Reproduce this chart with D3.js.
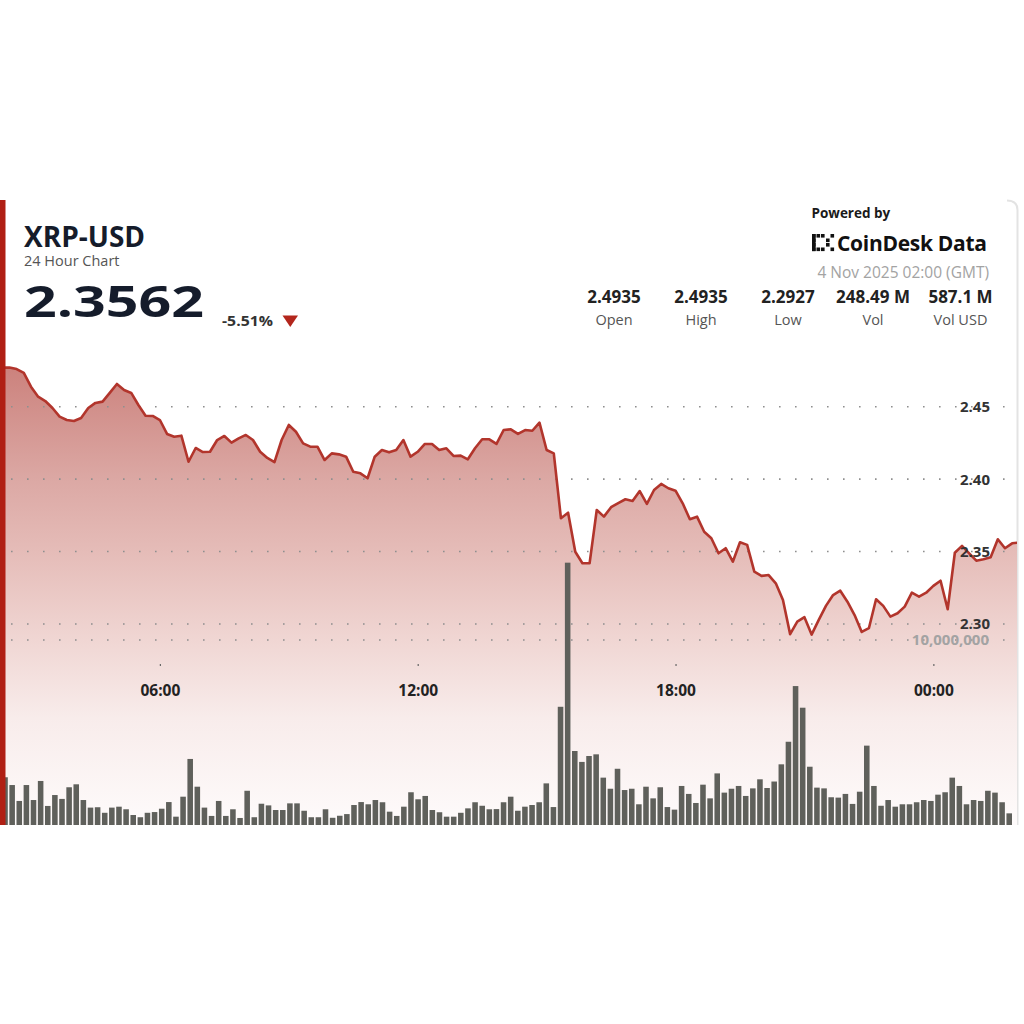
<!DOCTYPE html>
<html><head><meta charset="utf-8">
<script src="https://cdn.jsdelivr.net/npm/d3@7"></script>
<style>html,body{margin:0;padding:0;background:#fff;} svg{display:block;font-family:"Open Sans",sans-serif;}</style>
</head><body><svg id="c" width="1024" height="1024"></svg>
<script>
// ---------- DATA ----------
const startTime = Date.UTC(2025, 10, 3, 2, 0);   // 3 Nov 2025 02:00 GMT
const endTime   = Date.UTC(2025, 10, 4, 2, 0);   // 4 Nov 2025 02:00 GMT
const stepMinutes = 10;

const prices = [
2.4935,2.4860,2.4769,2.4771,2.4760,2.4733,2.4638,2.4569,2.4539,2.4491,
2.4431,2.4408,2.4401,2.4422,2.4491,2.4526,2.4535,2.4595,2.4657,2.4615,
2.4595,2.4512,2.4438,2.4436,2.4408,2.4312,2.4293,2.4300,2.4120,2.4215,
2.4187,2.4189,2.4270,2.4298,2.4252,2.4281,2.4305,2.4270,2.4189,2.4146,
2.4118,2.4270,2.4374,2.4327,2.4247,2.4224,2.4224,2.4132,2.4178,2.4171,
2.4155,2.4051,2.4040,2.4006,2.4155,2.4201,2.4185,2.4201,2.4270,2.4155,
2.4189,2.4243,2.4243,2.4201,2.4213,2.4160,2.4162,2.4137,2.4213,2.4275,
2.4275,2.4243,2.4339,2.4344,2.4312,2.4339,2.4334,2.4390,2.4201,2.4178,
2.3730,2.3768,2.3499,2.3419,2.3419,2.3787,2.3741,2.3806,2.3835,2.3861,
2.3849,2.3918,2.3829,2.3925,2.3967,2.3937,2.3920,2.3833,2.3723,2.3741,
2.3637,2.3592,2.3488,2.3523,2.3430,2.3564,2.3546,2.3361,2.3332,2.3338,
2.3281,2.3166,2.2930,2.3016,2.3047,2.2927,2.3028,2.3125,2.3200,2.3230,
2.3154,2.3062,2.2945,2.2971,2.3171,2.3125,2.3051,2.3074,2.3120,2.3216,
2.3189,2.3216,2.3263,2.3299,2.3102,2.3492,2.3539,2.3488,2.3437,2.3447,
2.3461,2.3585,2.3523,2.3557,2.3562
];

// volume per 10-minute bar, in millions of XRP
const volumesM = [
2.50,2.50,2.58,2.16,1.30,2.16,1.35,2.38,1.03,1.62,
1.41,2.04,2.20,1.35,0.94,0.96,0.66,0.94,0.99,0.85,
0.54,0.42,0.66,0.70,0.88,1.24,0.45,1.53,3.57,2.07,
0.94,0.49,1.30,0.49,0.85,0.38,1.85,0.42,1.15,1.06,
0.81,0.81,1.17,1.17,0.77,0.42,0.42,0.85,0.39,0.50,
0.59,1.08,1.24,1.12,1.35,1.23,0.72,0.49,0.99,1.77,
1.39,1.57,0.81,0.69,0.45,0.45,0.66,0.90,1.23,1.04,
0.85,0.86,1.23,1.53,0.77,0.99,1.08,1.23,2.25,0.97,
6.39,14.18,4.00,3.41,3.73,3.82,2.56,1.96,3.04,1.89,
1.96,1.12,2.07,1.44,2.04,0.97,0.83,2.11,1.68,1.19,
2.18,1.44,2.79,1.75,1.96,2.11,1.57,1.98,2.47,2.00,
2.35,3.28,4.50,7.51,6.34,3.15,2.02,1.98,1.50,1.48,
1.68,1.14,1.80,4.29,2.11,1.04,1.35,0.99,1.12,1.12,
1.23,1.35,1.30,1.64,1.77,2.56,2.11,1.12,1.35,1.30,
1.85,1.75,1.23,0.63
];

const priceTicks = [2.30, 2.35, 2.40, 2.45];
const volumeTicks = [10000000];

const symbol = "XRP-USD";
const subtitle = "24 Hour Chart";
const lastPrice = "2.3562";
const changePct = "-5.51%";
const poweredBy = "Powered by";
const brand = "CoinDesk Data";
const stamp = "4 Nov 2025 02:00 (GMT)";
const statValues = ["2.4935", "2.4935", "2.2927", "248.49 M", "587.1 M"];
const statLabels = ["Open", "High", "Low", "Vol", "Vol USD"];

// ---------- CHART ----------
const svg = d3.select("#c");
const defs = svg.append("defs");

const cardTop = 200, cardBottom = 825, cardLeft = 0, cardRight = 1017;

const priceData = prices.map((p, i) => ({t: new Date(startTime + i * stepMinutes * 60000), p}));
const volData = volumesM.map((v, i) => ({i, v: v * 1e6}));

const x = d3.scaleTime().domain([new Date(startTime), new Date(endTime)]).range([-12, 1019.3]);
const y = d3.scaleLinear().domain([2.30, 2.45]).range([624, 406.7]);
const yv = d3.scaleLinear().domain([0, 10000000]).range([cardBottom, 640]);
const xb = d3.scaleBand().domain(d3.range(volData.length)).range([-12, 1012]).paddingInner(0.22).paddingOuter(0);

// gradient
const grad = defs.append("linearGradient").attr("id", "fillGrad")
  .attr("gradientUnits", "userSpaceOnUse").attr("x1", 0).attr("y1", 362).attr("x2", 0).attr("y2", cardBottom);
[[0, "#cb807b"], [0.26, "#dca9a5"], [0.41, "#e5bcb8"], [0.6, "#f0d6d3"], [0.77, "#f8eceb"], [1, "#fefbfb"]]
  .forEach(([o, c]) => grad.append("stop").attr("offset", o).attr("stop-color", c));

defs.append("clipPath").attr("id", "plotClip").append("rect")
  .attr("x", 5).attr("y", cardTop).attr("width", cardRight - 5).attr("height", cardBottom - cardTop);

// card right border
svg.append("path")
  .attr("d", `M ${cardRight - 10} ${cardTop + 0.5} Q ${cardRight + 0.5} ${cardTop + 0.5} ${cardRight + 0.5} ${cardTop + 10} L ${cardRight + 0.5} ${cardBottom}`)
  .attr("fill", "none").attr("stroke", "#e3e3e3").attr("stroke-width", 2);

const plot = svg.append("g").attr("clip-path", "url(#plotClip)");

// area
plot.append("path").datum(priceData)
  .attr("fill", "url(#fillGrad)")
  .attr("d", d3.area().x(d => x(d.t)).y0(cardBottom).y1(d => y(d.p)));

// gridlines
const gridG = plot.append("g");
priceTicks.forEach(v => {
  gridG.append("line").attr("x1", 11).attr("x2", cardRight).attr("y1", y(v)).attr("y2", y(v))
    .attr("stroke", "#8f8f8f").attr("stroke-width", 1.6).attr("stroke-dasharray", "1.6,14.4");
});
volumeTicks.forEach(v => {
  gridG.append("line").attr("x1", 11).attr("x2", cardRight).attr("y1", yv(v)).attr("y2", yv(v))
    .attr("stroke", "#8f8f8f").attr("stroke-width", 1.6).attr("stroke-dasharray", "1.6,14.4");
});

// volume bars
plot.append("g").selectAll("rect").data(volData).join("rect")
  .attr("x", d => xb(d.i)).attr("width", xb.bandwidth())
  .attr("y", d => yv(d.v)).attr("height", d => cardBottom - yv(d.v))
  .attr("fill", "#5f605b");

// price line
plot.append("path").datum(priceData)
  .attr("fill", "none").attr("stroke", "#b2352c").attr("stroke-width", 2.6)
  .attr("stroke-linejoin", "round")
  .attr("d", d3.line().x(d => x(d.t)).y(d => y(d.p)));

// left accent bar
svg.append("rect").attr("x", 0).attr("y", cardTop).attr("width", 5.5).attr("height", cardBottom - cardTop).attr("fill", "#b01f14");

// price axis labels
const fmtP = d3.format(".2f");
svg.append("g").selectAll("text").data(priceTicks).join("text")
  .attr("x", 990).attr("y", d => y(d)).attr("dy", "0.36em").attr("text-anchor", "end")
  .attr("font-size", 15).attr("font-weight", 700).attr("fill", "#333")
  .text(d => fmtP(d));
svg.append("g").selectAll("text").data(volumeTicks).join("text")
  .attr("x", 989).attr("y", d => yv(d)).attr("dy", "0.36em").attr("text-anchor", "end")
  .attr("font-size", 15).attr("font-weight", 700).attr("fill", "#a3a3a3")
  .text(d => d3.format(",")(d));

// time axis
const ax = svg.append("g").attr("transform", "translate(0,664)")
  .call(d3.axisBottom(x).ticks(d3.utcHour.every(6)).tickFormat(d3.utcFormat("%H:%M")).tickSize(2).tickSizeOuter(0));
ax.select(".domain").remove();
ax.selectAll(".tick line").attr("stroke", "#666").attr("stroke-width", 1.2);
ax.selectAll(".tick text").attr("y", 26).attr("dy", "0.36em")
  .attr("font-size", 15.5).attr("font-weight", 700).attr("fill", "#222").attr("font-family", "Open Sans, sans-serif");

// ---------- HEADER ----------
svg.append("text").attr("x", 24).attr("y", 246.5).attr("font-size", 28).attr("font-weight", 700).attr("fill", "#151c2b").text(symbol);
svg.append("text").attr("x", 24).attr("y", 266).attr("font-size", 14.5).attr("fill", "#555").text(subtitle);
svg.append("text").attr("x", 24).attr("y", 316.7).attr("font-size", 43).attr("font-weight", 700).attr("fill", "#151c2b")
  .attr("textLength", 180).attr("lengthAdjust", "spacingAndGlyphs").text(lastPrice);
svg.append("text").attr("x", 222).attr("y", 326).attr("font-size", 14.5).attr("font-weight", 700).attr("fill", "#333")
  .attr("textLength", 51).attr("lengthAdjust", "spacingAndGlyphs").text(changePct);
svg.append("path").attr("d", "M282.5,315.5 L298,315.5 L290.25,327 Z").attr("fill", "#b3261c");

svg.append("text").attr("x", 811.5).attr("y", 218).attr("font-size", 13.5).attr("font-weight", 700).attr("fill", "#1a1a1a").text(poweredBy);
// brand icon (dotted bracket)
const icon = svg.append("g").attr("fill", "#111");
[[812,234],[812,238.5],[812,243],[812,247.5],[816.5,234],[821,234],[816.5,247.5],[821,247.5],[826,238.5],[826,243],[830.5,234],[830.5,247.5]]
  .forEach(([a, b]) => icon.append("rect").attr("x", a).attr("y", b).attr("width", 3.6).attr("height", 3.6));
icon.append("rect").attr("x", 812).attr("y", 234).attr("width", 3.6).attr("height", 17.1);
svg.append("text").attr("x", 837).attr("y", 250.5).attr("font-size", 21).attr("font-weight", 700).attr("fill", "#111")
  .attr("letter-spacing", -0.3).text(brand);
svg.append("text").attr("x", 989).attr("y", 277.5).attr("text-anchor", "end").attr("font-size", 15.5).attr("fill", "#a3a3a3").text(stamp);

const statX = [614, 701, 788, 873, 960.5];
svg.append("g").selectAll("text").data(statValues).join("text")
  .attr("x", (d, i) => statX[i]).attr("y", 302.5).attr("text-anchor", "middle")
  .attr("font-size", 17).attr("font-weight", 700).attr("fill", "#222").text(d => d);
svg.append("g").selectAll("text").data(statLabels).join("text")
  .attr("x", (d, i) => statX[i]).attr("y", 324.5).attr("text-anchor", "middle")
  .attr("font-size", 14.5).attr("fill", "#555").text(d => d);
</script></body></html>
